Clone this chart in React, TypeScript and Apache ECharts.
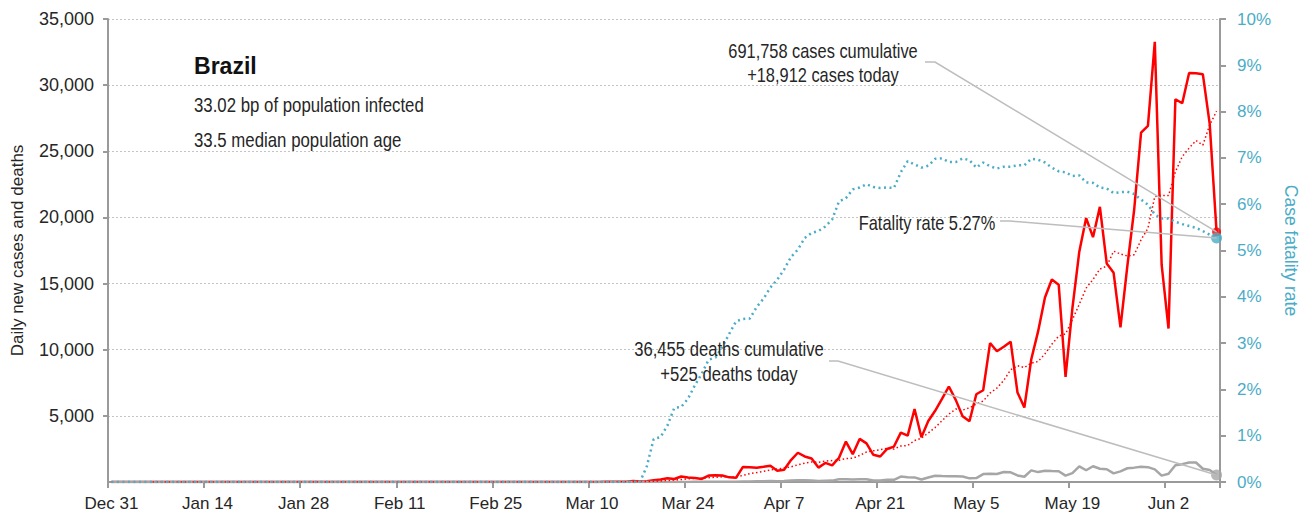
import React, { useEffect, useRef } from 'react';
import * as echarts from 'echarts';

const FONT = "'Liberation Sans', Arial, sans-serif";

const monthNames = ['Jan', 'Feb', 'Mar', 'Apr', 'May', 'Jun', 'Jul', 'Aug', 'Sep', 'Oct', 'Nov', 'Dec'];
const dayCount = 162; // Dec 31 .. Jun 9
const dayLabels: string[] = [];
for (let i = 0; i < dayCount; i++) {
  const d = new Date(Date.UTC(2019, 11, 31 + i));
  dayLabels.push(monthNames[d.getUTCMonth()] + ' ' + d.getUTCDate());
}
const xTickLabels = ['Dec 31', 'Jan 14', 'Jan 28', 'Feb 11', 'Feb 25', 'Mar 10', 'Mar 24', 'Apr 7', 'Apr 21', 'May 5', 'May 19', 'Jun 2'];

// Daily new cases (day 0 = Dec 31)
const casesDaily: number[] = [
  0, 0, 0, 0, 0, 0, 0, 0, 0, 0, 0, 0, 0, 0, 0, 0, 0, 0, 0, 0,
  0, 0, 0, 0, 0, 0, 0, 0, 0, 0, 0, 0, 0, 0, 0, 0, 0, 0, 0, 0,
  0, 0, 0, 0, 0, 0, 0, 0, 0, 0, 0, 0, 0, 0, 0, 0, 0,
  1, 0, 0, 0, 1, 0, 0, 0, 1, 5,
  5, 6, 6, 0, 9, 18, 25, 21, 23, 79,
  34, 57, 137, 193, 283, 224, 418, 345, 310, 232,
  482, 502, 487, 352, 323,
  1138, 1119, 1074, 1146, 1222, 852, 926, 1661, 2210, 1930,
  1781, 1089, 1442, 1261, 1832, 3058, 2105, 3257, 2917, 2055,
  1927, 2498, 2678, 3735, 3503, 5514, 3379, 4613, 5385, 6276,
  7218, 6209, 4970, 4588, 6633, 6935, 10503, 9888, 10222, 10611,
  6760, 5632, 9258, 11385, 13944, 15305, 14919, 7938, 13140, 17408,
  19951, 18508, 20803, 16508, 15813, 11687, 16324, 20599, 26417, 26928,
  33274,
  16409, 11598, 28936, 28633, 30925, 30900, 30830, 27075, 18912,
];

// 7-day average of new cases (dotted red)
const casesAvg: (number | null)[] = [
  null, null, null, null, null, null,
  0, 0, 0, 0, 0, 0, 0, 0, 0, 0, 0, 0, 0, 0, 0, 0, 0, 0, 0, 0,
  0, 0, 0, 0, 0, 0, 0, 0, 0, 0, 0, 0, 0, 0, 0, 0, 0, 0, 0, 0,
  0, 0, 0, 0, 0, 0, 0, 0, 0, 0, 0,
  0.1, 0.1, 0.1, 0.1, 0.3, 0.3, 0.3, 0.1, 0.3, 1.0,
  1.7, 2.4, 3.3, 3.3, 4.6, 7.0, 9.9, 12.1, 14.6, 25.0,
  29.9, 36.7, 53.7, 77.7, 115, 144, 192, 237, 273, 286,
  328, 359, 397, 387, 384,
  502, 629, 714, 806, 911, 982, 1068, 1143, 1299, 1421,
  1512, 1493, 1577, 1625, 1649, 1770, 1795, 2006, 2267, 2355,
  2450, 2545, 2491, 2724, 2759, 3130, 3319, 3703, 4115, 4629,
  5127, 5513, 5436, 5608, 5897, 6118, 6722, 7104, 7677, 8483,
  8793, 8650, 8982, 9108, 9687, 10414, 11029, 11197, 12270, 13434,
  14658, 15310, 16095, 16322, 17447, 17240, 17085, 17177, 18307, 19182,
  21577,
  21663, 21650, 23452, 24599, 25243, 25811, 25462, 26985, 28030,
];

// Daily deaths (grey)
const deathsDaily: number[] = [
  0, 0, 0, 0, 0, 0, 0, 0, 0, 0, 0, 0, 0, 0, 0, 0, 0, 0, 0, 0,
  0, 0, 0, 0, 0, 0, 0, 0, 0, 0, 0, 0, 0, 0, 0, 0, 0, 0, 0, 0,
  0, 0, 0, 0, 0, 0, 0, 0, 0, 0, 0, 0, 0, 0, 0, 0, 0, 0, 0, 0,
  0, 0, 0, 0, 0, 0, 0, 0, 0, 0, 0, 0, 0, 0, 0, 0, 0, 0,
  1, 3, 2, 5, 7, 7, 9, 12, 11, 20, 15, 22, 22, 23,
  42, 40, 58, 60, 73, 54, 67, 114, 133, 141,
  115, 68, 99, 105, 204, 204, 188, 217, 213, 108,
  113, 166, 165, 407, 357, 346, 189, 338, 474, 449,
  435, 428, 421, 275, 296, 600, 615, 610, 751, 730,
  496, 396, 881, 749, 844, 824, 816, 485, 674, 1179,
  888, 1188, 1001, 965, 653, 807, 1039, 1086, 1156, 1124,
  956,
  480, 623, 1262, 1349, 1473, 1470, 1005, 904, 525,
];

// Case fatality rate, % (right axis)
const fatalityRate: number[] = [
  0, 0, 0, 0, 0, 0, 0, 0, 0, 0, 0, 0, 0, 0, 0, 0, 0, 0, 0, 0,
  0, 0, 0, 0, 0, 0, 0, 0, 0, 0, 0, 0, 0, 0, 0, 0, 0, 0, 0, 0,
  0, 0, 0, 0, 0, 0, 0, 0, 0, 0, 0, 0, 0, 0, 0, 0, 0, 0, 0, 0,
  0, 0, 0, 0, 0, 0, 0, 0, 0, 0, 0, 0, 0, 0, 0, 0, 0, 0,
  0.34, 0.93, 0.97, 1.22, 1.60, 1.62, 1.80, 2.09, 2.34, 2.64, 2.69, 2.92, 3.20, 3.47,
  3.52, 3.53, 3.78, 3.96, 4.20, 4.37, 4.59, 4.86, 5.02, 5.27,
  5.38, 5.42, 5.52, 5.67, 6.06, 6.13, 6.32, 6.36, 6.43, 6.37,
  6.35, 6.36, 6.35, 6.69, 6.93, 6.86, 6.79, 6.83, 6.98, 6.99,
  6.91, 6.91, 6.99, 6.95, 6.79, 6.90, 6.82, 6.77, 6.81, 6.81,
  6.84, 6.84, 6.98, 6.96, 6.90, 6.79, 6.71, 6.69, 6.61, 6.62,
  6.47, 6.46, 6.36, 6.34, 6.24, 6.26, 6.27, 6.22, 6.10, 5.99,
  5.78,
  5.69, 5.69, 5.62, 5.57, 5.53, 5.49, 5.42, 5.34, 5.27,
];

const leftTicks = [0, 5000, 10000, 15000, 20000, 25000, 30000, 35000];
const rightTicks = [0, 1, 2, 3, 4, 5, 6, 7, 8, 9, 10];

const countryName = 'Brazil';
const infoLines = ['33.02 bp of population infected', '33.5 median population age'];
const casesNote = ['691,758 cases cumulative', '+18,912 cases today'];
const deathsNote = ['36,455 deaths cumulative', '+525 deaths today'];
const fatalityNote = 'Fatality rate 5.27%';

const RED = '#ff0000';
const GREY = '#a6a6a6';
const BLUE = '#4bacc6';
const TEXT = '#262626';
const AXIS = '#9a9a9a';

export default function App() {
  const ref = useRef<HTMLDivElement>(null);
  useEffect(() => {
    document.body.style.margin = '0';
    if (!ref.current) return;
    const chart = echarts.init(ref.current, null, { renderer: 'svg' });
    const last = dayCount - 1;
    const option: any = {
      animation: false,
      backgroundColor: '#ffffff',
      grid: { left: 108, right: 92, top: 19, bottom: 38, containLabel: false },
      xAxis: {
        type: 'category',
        data: dayLabels,
        boundaryGap: true,
        axisLine: { show: true, lineStyle: { color: AXIS, width: 2 } },
        axisTick: { show: true, interval: 13, length: 6, lineStyle: { color: AXIS, width: 2 } },
        axisLabel: {
          interval: 13,
          margin: 13,
          color: TEXT,
          fontFamily: FONT,
          fontSize: 17,
          formatter: (v: string, i: number) => (i % 14 === 0 ? xTickLabels[i / 14] : ''),
        },
        splitLine: { show: false },
      },
      yAxis: [
        {
          type: 'value',
          position: 'left',
          min: leftTicks[0],
          max: leftTicks[leftTicks.length - 1],
          interval: leftTicks[1] - leftTicks[0],
          name: 'Daily new cases and deaths',
          nameLocation: 'middle',
          nameGap: 82,
          nameTextStyle: { color: TEXT, fontFamily: FONT, fontSize: 17 },
          axisLine: { show: true, lineStyle: { color: AXIS, width: 2 } },
          axisTick: { show: true, length: 5, lineStyle: { color: AXIS, width: 2 } },
          axisLabel: {
            showMinLabel: false,
            margin: 14,
            color: TEXT,
            fontFamily: FONT,
            fontSize: 18,
            formatter: (v: number) => v.toLocaleString('en-US'),
          },
          splitLine: { show: true, lineStyle: { color: '#c4c4c4', width: 1, type: [2, 2] } },
        },
        {
          type: 'value',
          position: 'right',
          min: rightTicks[0],
          max: rightTicks[rightTicks.length - 1],
          interval: 1,
          name: 'Case fatality rate',
          nameLocation: 'middle',
          nameRotate: -90,
          nameGap: 58,
          nameTextStyle: { color: BLUE, fontFamily: FONT, fontSize: 17.5 },
          axisLine: { show: true, lineStyle: { color: AXIS, width: 2 } },
          axisTick: { show: true, length: 6, lineStyle: { color: AXIS, width: 2 } },
          axisLabel: {
            margin: 17,
            color: BLUE,
            fontFamily: FONT,
            fontSize: 17,
            formatter: (v: number) => v + '%',
          },
          splitLine: { show: false },
        },
      ],
      series: [
        {
          name: 'Cases',
          type: 'line',
          data: casesDaily,
          yAxisIndex: 0,
          symbol: 'none',
          lineStyle: { color: RED, width: 2.5 },
          z: 2,
        },
        {
          name: 'Deaths',
          type: 'line',
          data: deathsDaily,
          yAxisIndex: 0,
          symbol: 'none',
          lineStyle: { color: GREY, width: 2.5 },
          z: 3,
        },
        {
          name: 'Cases 7d avg',
          type: 'line',
          data: casesAvg,
          yAxisIndex: 0,
          symbol: 'none',
          lineStyle: { color: RED, width: 1.5, type: [1.5, 2.5] },
          z: 4,
        },
        {
          name: 'Fatality rate',
          type: 'line',
          data: fatalityRate,
          yAxisIndex: 1,
          symbol: 'none',
          lineStyle: { color: BLUE, width: 2.5, type: [2, 3.5] },
          z: 5,
        },
        {
          type: 'scatter',
          yAxisIndex: 0,
          data: [[last, casesDaily[last]]],
          symbolSize: 9,
          itemStyle: { color: RED },
          z: 8,
        },
        {
          type: 'scatter',
          yAxisIndex: 0,
          data: [[last, deathsDaily[last]]],
          symbolSize: 11,
          itemStyle: { color: GREY },
          z: 8,
        },
        {
          type: 'scatter',
          yAxisIndex: 1,
          data: [[last, fatalityRate[last]]],
          symbolSize: 11,
          itemStyle: { color: BLUE },
          z: 9,
        },
      ],
    };
    chart.setOption(option);

    const pc = chart.convertToPixel({ xAxisIndex: 0, yAxisIndex: 0 }, [last, casesDaily[last]]) as number[];
    const pd = chart.convertToPixel({ xAxisIndex: 0, yAxisIndex: 0 }, [last, deathsDaily[last]]) as number[];
    const pf = chart.convertToPixel({ xAxisIndex: 0, yAxisIndex: 1 }, [last, fatalityRate[last]]) as number[];

    const txt = (text: string, x: number, y: number, size: number, align: string, sx = 0.82, weight = 'normal', color = TEXT) => ({
      type: 'text',
      x,
      y,
      scaleX: sx,
      z: 20,
      style: {
        text,
        fill: color,
        font: `${weight} ${size}px ${FONT}`,
        textAlign: align,
        textVerticalAlign: 'middle',
        align,
        verticalAlign: 'middle',
      },
    });
    const conn = (pts: number[][]) => ({
      type: 'polyline',
      z: 15,
      shape: { points: pts },
      style: { stroke: '#bdbdbd', lineWidth: 1.5, fill: 'none' },
    });

    chart.setOption({
      graphic: [
        txt(countryName, 194, 66, 24, 'left', 0.96, 'bold', '#111111'),
        txt(infoLines[0], 194, 105, 20.5, 'left'),
        txt(infoLines[1], 194, 140, 20.5, 'left'),
        txt(casesNote[0], 823, 51, 20, 'center'),
        txt(casesNote[1], 823, 75, 20, 'center'),
        txt(fatalityNote, 927, 223, 20, 'center'),
        txt(deathsNote[0], 729, 349, 20.3, 'center'),
        txt(deathsNote[1], 729, 374, 20.3, 'center'),
        conn([[925, 62], [935, 62], [pc[0], pc[1]]]),
        conn([[1000, 221], [1010, 221], [pf[0], pf[1]]]),
        conn([[829, 361], [838, 361], [pd[0], pd[1]]]),
      ],
    });

    return () => chart.dispose();
  }, []);
  return <div ref={ref} style={{ width: 1312, height: 520 }} />;
}
